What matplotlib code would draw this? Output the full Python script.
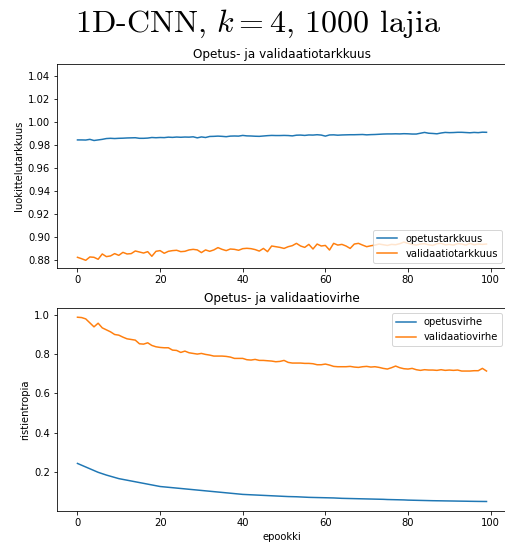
import numpy as np
import matplotlib
matplotlib.use("Agg")
from matplotlib import pyplot as plt

plt.rcParams['mathtext.fontset'] = 'cm'

# training history, 100 epochs
train_acc = [
    0.9843, 0.9843, 0.9842, 0.9848, 0.9838, 0.9843, 0.9848, 0.9855, 0.9857, 0.9855,
    0.9857, 0.9858, 0.9860, 0.9861, 0.9862, 0.9857, 0.9857, 0.9859, 0.9864, 0.9862,
    0.9864, 0.9863, 0.9867, 0.9865, 0.9868, 0.9866, 0.9868, 0.9867, 0.9870, 0.9861,
    0.9869, 0.9864, 0.9873, 0.9874, 0.9876, 0.9874, 0.9871, 0.9876, 0.9877, 0.9876,
    0.9882, 0.9878, 0.9877, 0.9875, 0.9874, 0.9877, 0.9880, 0.9882, 0.9881, 0.9881,
    0.9882, 0.9881, 0.9878, 0.9884, 0.9885, 0.9882, 0.9886, 0.9885, 0.9888, 0.9885,
    0.9876, 0.9886, 0.9887, 0.9884, 0.9886, 0.9887, 0.9888, 0.9888, 0.9889, 0.9890,
    0.9887, 0.9889, 0.9890, 0.9892, 0.9894, 0.9895, 0.9895, 0.9896, 0.9895, 0.9897,
    0.9896, 0.9894, 0.9894, 0.9901, 0.9908, 0.9901, 0.9899, 0.9896, 0.9903, 0.9908,
    0.9906, 0.9907, 0.9909, 0.9909, 0.9907, 0.9905, 0.9908, 0.9906, 0.9910, 0.9909,
]
val_acc = [
    0.8826, 0.8814, 0.8800, 0.8829, 0.8826, 0.8809, 0.8855, 0.8832, 0.8838, 0.8858,
    0.8843, 0.8869, 0.8855, 0.8858, 0.8881, 0.8872, 0.8863, 0.8875, 0.8835, 0.8878,
    0.8884, 0.8861, 0.8878, 0.8884, 0.8887, 0.8875, 0.8878, 0.8890, 0.8895, 0.8890,
    0.8867, 0.8890, 0.8878, 0.8890, 0.8910, 0.8895, 0.8884, 0.8898, 0.8895, 0.8887,
    0.8901, 0.8904, 0.8901, 0.8893, 0.8880, 0.8903, 0.8875, 0.8924, 0.8918, 0.8912,
    0.8903, 0.8918, 0.8927, 0.8947, 0.8924, 0.8912, 0.8938, 0.8898, 0.8941, 0.8924,
    0.8929, 0.8889, 0.8947, 0.8932, 0.8938, 0.8924, 0.8903, 0.8941, 0.8947, 0.8932,
    0.8918, 0.8926, 0.8932, 0.8941, 0.8935, 0.8929, 0.8938, 0.8935, 0.8944, 0.8958,
    0.8947, 0.8938, 0.8932, 0.8941, 0.8944, 0.8935, 0.8929, 0.8944, 0.8947, 0.8935,
    0.8938, 0.8932, 0.8944, 0.8941, 0.8932, 0.8947, 0.8935, 0.8941, 0.8938, 0.8941,
]
train_loss = [
    0.245, 0.236, 0.227, 0.218, 0.209, 0.200, 0.193, 0.186, 0.180, 0.174,
    0.168, 0.164, 0.160, 0.156, 0.152, 0.148, 0.144, 0.140, 0.136, 0.132,
    0.128, 0.126, 0.124, 0.122, 0.120, 0.118, 0.116, 0.114, 0.112, 0.110,
    0.108, 0.106, 0.104, 0.102, 0.100, 0.098, 0.096, 0.094, 0.092, 0.090,
    0.088, 0.087, 0.086, 0.085, 0.084, 0.083, 0.082, 0.081, 0.080, 0.079,
    0.078, 0.077, 0.0765, 0.076, 0.075, 0.074, 0.073, 0.0725, 0.072, 0.0715,
    0.071, 0.0705, 0.070, 0.069, 0.068, 0.0675, 0.067, 0.0665, 0.066, 0.0655,
    0.065, 0.0645, 0.064, 0.0635, 0.063, 0.062, 0.0615, 0.061, 0.0605, 0.060,
    0.059, 0.0585, 0.058, 0.0575, 0.057, 0.0565, 0.056, 0.0557, 0.0554, 0.055,
    0.0547, 0.0544, 0.054, 0.0537, 0.0534, 0.053, 0.0527, 0.0524, 0.0522, 0.052,
]
val_loss = [
    0.9864, 0.9847, 0.9780, 0.9578, 0.9376, 0.9561, 0.9325, 0.9224, 0.9123, 0.8988,
    0.8955, 0.8854, 0.8769, 0.8736, 0.8702, 0.8517, 0.8500, 0.8567, 0.8433, 0.8365,
    0.8332, 0.8315, 0.8315, 0.8197, 0.8180, 0.8079, 0.8146, 0.8062, 0.8028, 0.7995,
    0.8028, 0.7978, 0.7944, 0.7894, 0.7894, 0.7894, 0.7877, 0.7843, 0.7776, 0.7776,
    0.7776, 0.7709, 0.7692, 0.7725, 0.7675, 0.7674, 0.7657, 0.7641, 0.7607, 0.7624,
    0.7674, 0.7573, 0.7540, 0.7540, 0.7540, 0.7523, 0.7523, 0.7506, 0.7455, 0.7455,
    0.7489, 0.7438, 0.7371, 0.7354, 0.7354, 0.7354, 0.7371, 0.7337, 0.7320, 0.7354,
    0.7371, 0.7337, 0.7354, 0.7320, 0.7270, 0.7236, 0.7304, 0.7388, 0.7304, 0.7253,
    0.7236, 0.7270, 0.7203, 0.7169, 0.7203, 0.7186, 0.7186, 0.7169, 0.7203, 0.7169,
    0.7186, 0.7169, 0.7186, 0.7135, 0.7135, 0.7135, 0.7152, 0.7152, 0.7270, 0.7135,
]
epochs = np.arange(len(train_acc))

fig = plt.figure(figsize=(505 / 72, 544 / 72), dpi=72)
fig.suptitle(r"1D-CNN, $k=4$, 1000 lajia", fontname="cmr10", fontsize=32,
             x=0.51, y=0.985)

ax1 = fig.add_axes([0.1129, 0.5079, 0.891, 0.3745])
ax1.plot(epochs, train_acc, label="opetustarkkuus")
ax1.plot(epochs, val_acc, label="validaatiotarkkuus")
ax1.set_ylim(0.8736, 1.0501)
ax1.set_yticks(np.arange(0.88, 1.041, 0.02))
ax1.set_title("Opetus- ja validaatiotarkkuus")
ax1.set_ylabel("luokittelutarkkuus")
ax1.legend(loc="lower right")

ax2 = fig.add_axes([0.1129, 0.0612, 0.891, 0.3726])
ax2.plot(epochs, train_loss, label="opetusvirhe")
ax2.plot(epochs, val_loss, label="validaatiovirhe")
ax2.set_title("Opetus- ja validaatiovirhe")
ax2.set_ylabel("ristientropia")
ax2.set_xlabel("epookki")
ax2.legend(loc="upper right")

fig.savefig("out.png", dpi=72)
